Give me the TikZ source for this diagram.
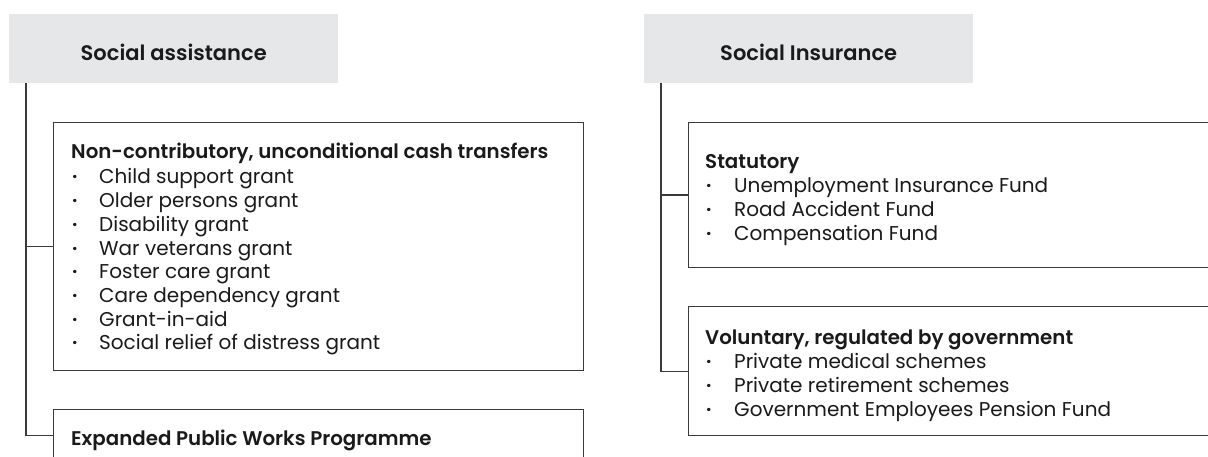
\documentclass[tikz,border=0pt]{standalone}
\usepackage{fontspec}
\setmainfont{Poppins}[BoldFont={Poppins SemiBold}]
\definecolor{hdrfill}{HTML}{E6E7E8}
\definecolor{lncol}{HTML}{3A3A3A}
\definecolor{txtcol}{HTML}{1A1A1A}
\begin{document}
\begin{tikzpicture}[x=1pt,y=-1pt,
  hdrbox/.style={fill=hdrfill, draw=none, anchor=north west,
    minimum width=329pt, minimum height=69pt, inner sep=0pt},
  hdrtxt/.style={inner sep=0pt, text=txtcol, font=\fontsize{21}{24}\selectfont\bfseries},
  frame/.style={draw=lncol, line width=1.2pt, anchor=north west, inner sep=0pt},
  ttl/.style={anchor=base west, inner sep=0pt, text=txtcol,
    font=\fontsize{19.8}{24}\selectfont\bfseries},
  itm/.style={anchor=base west, inner sep=0pt, text=txtcol,
    font=\fontsize{20}{24}\selectfont},
  conn/.style={draw=lncol, line width=1.2pt}]
\clip (0,0) rectangle (1208,457);
\fill[white] (0,0) rectangle (1208,457);
% headers
\node[hdrbox] (sa) at (9,14) {};
\node[hdrbox] (si) at (644,14) {};
\node[hdrtxt] (sat) at ([yshift=-4pt]sa.center) {Social assistance};
\node[hdrtxt] (sit) at ([yshift=-4pt]si.center) {Social Insurance};
% frames
\node[frame, minimum width=530pt, minimum height=248pt] (b1) at (53,122) {};
\node[frame, minimum width=530pt, minimum height=52pt] (b2) at (53,409) {};
\node[frame, minimum width=580pt, minimum height=145pt] (b3) at (688,122) {};
\node[frame, minimum width=580pt, minimum height=129pt] (b4) at (688,306) {};
% box 1 text
\node[ttl] (b1t) at (71,159) {Non-contributory, unconditional cash transfers};
\foreach \t [count=\i] in {Child support grant, Older persons grant, Disability grant,
  War veterans grant, Foster care grant, Care dependency grant, Grant-in-aid,
  Social relief of distress grant}
  \node[itm] (b1i\i) at (72,{184+23.7*(\i-1)}) {\makebox[27pt][l]{\textbf{·}}\t};
% box 2 text
\node[ttl] (b2t) at (71,445) {Expanded Public Works Programme};
% box 3 text
\node[ttl] (b3t) at (705,169) {Statutory};
\foreach \t [count=\i] in {Unemployment Insurance Fund, Road Accident Fund, Compensation Fund}
  \node[itm] (b3i\i) at (706,{193+23.6*(\i-1)}) {\makebox[28pt][l]{\textbf{·}}\t};
% box 4 text
\node[ttl] (b4t) at (705,344) {Voluntary, regulated by government};
\foreach \t [count=\i] in {Private medical schemes, Private retirement schemes,
  Government Employees Pension Fund}
  \node[itm] (b4i\i) at (706,{368+24*(\i-1)}) {\makebox[28pt][l]{\textbf{·}}\t};
% connectors
\coordinate (la) at ([xshift=17pt]sa.south west);
\coordinate (ra) at ([xshift=17pt]si.south west);
\draw[conn] (la) |- (b2.west);
\draw[conn] (b1.west) -- (b1.west -| la);
\draw[conn] (ra) |- (b4.west);
\draw[conn] (b3.west) -- (b3.west -| ra);
\end{tikzpicture}
\end{document}
